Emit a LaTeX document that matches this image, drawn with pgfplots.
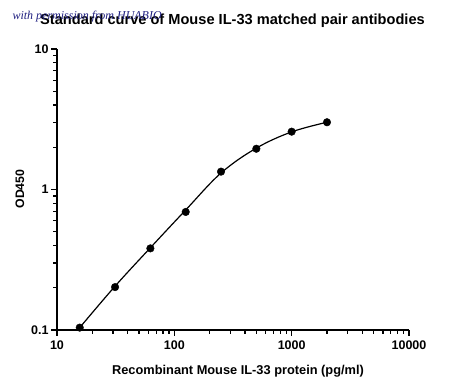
\documentclass[border=0pt]{standalone}
\usepackage{fontspec}
\setmainfont{Liberation Sans}
\newfontfamily\wmfont{Liberation Serif}
\usepackage{pgfplots}
\pgfplotsset{compat=1.18}
\begin{document}
\begin{tikzpicture}[x=1pt,y=1pt]
\path (0,0) rectangle (450,390);
\begin{axis}[
  at={(57pt,60pt)}, anchor=south west,
  scale only axis, width=352pt, height=281pt,
  xmode=log, ymode=log,
  xmin=10, xmax=10000, ymin=0.1, ymax=10,
  axis x line*=bottom, axis y line*=left,
  axis line style={line width=1.6pt},
  tick align=outside,
  major tick length=6pt, minor tick length=4pt,
  every major tick/.style={line width=1.4pt, black},
  every minor tick/.style={line width=1.2pt, black},
  xtick={10,100,1000,10000}, xticklabels={10,100,1000,10000},
  ytick={0.1,1,10}, yticklabels={0.1,1,10},
  /pgf/number format/assume math mode=true,
  ticklabel style={font=\bfseries\fontsize{12.5}{14}\selectfont},
  xticklabel style={yshift=-1pt},
  yticklabel style={xshift=1pt},
  clip=false,
]
\addplot [black, line width=1.2pt, smooth, tension=0.6] coordinates {
 (15.625,0.104) (31.25,0.205) (62.5,0.385) (125,0.715) (250,1.31) (500,1.97) (1000,2.57) (2000,3.01)};
\addplot [only marks, mark=*, mark size=3.8pt, black] coordinates {
 (15.625,0.104) (31.25,0.202) (62.5,0.381) (125,0.692) (250,1.34) (500,1.95) (1000,2.58) (2000,3.01)};
\end{axis}
\node[font=\bfseries\fontsize{14.6}{16}\selectfont] at (232.5,369) {Standard curve of Mouse IL-33 matched pair antibodies};
\node[anchor=west, font=\wmfont\itshape\fontsize{12}{13}\selectfont, text={rgb,1:red,0.12;green,0.12;blue,0.5}] at (9,373) {with permission from HUABIO};
\node[font=\bfseries\fontsize{12.8}{14}\selectfont] at (238,19) {Recombinant Mouse IL-33 protein (pg/ml)};
\node[font=\bfseries\fontsize{12.3}{14}\selectfont, rotate=90] at (20,201) {OD450};
\end{tikzpicture}
\end{document}
